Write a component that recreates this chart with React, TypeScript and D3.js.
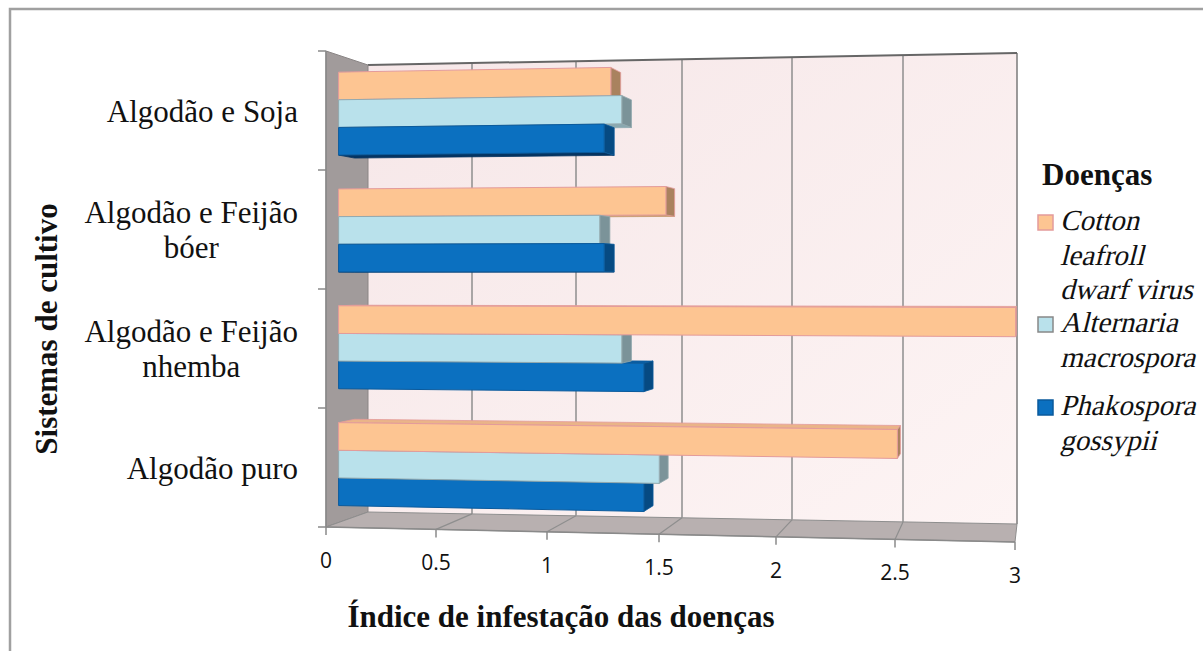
import React, { useEffect, useRef } from "react";
import * as d3 from "d3";

const categories = [
  "Algodão e Soja",
  "Algodão e Feijão\nbóer",
  "Algodão e Feijão\nnhemba",
  "Algodão puro",
];
const seriesNames = [
  "Cotton leafroll dwarf virus",
  "Alternaria macrospora",
  "Phakospora gossypii",
];
const legendLines = [
  ["Cotton", "leafroll", "dwarf virus"],
  ["Alternaria", "macrospora"],
  ["Phakospora", "gossypii"],
];
const cottonValues = [1.25, 1.5, 3.0, 2.5];
const alternariaValues = [1.3, 1.2, 1.3, 1.47];
const phakosporaValues = [1.22, 1.22, 1.4, 1.4];
const xTicks = [0, 0.5, 1, 1.5, 2, 2.5, 3];
const xTickLabels = ["0", "0.5", "1", "1.5", "2", "2.5", "3"];

const faceColors = [
  { front: "#fdc592", side: "#a9825f", top: "#eab488", bottom: "#c99a70", stroke: "#e39b9b" },
  { front: "#b9e1eb", side: "#7b9399", top: "#a4c8d2", bottom: "#8aa8b0", stroke: "#93a9ae" },
  { front: "#0b70c0", side: "#064a82", top: "#0c60a6", bottom: "#053461", stroke: "#0a5a9c" },
];

const serif = "Liberation Serif, DejaVu Serif, serif";

const App = () => {
  const ref = useRef<SVGSVGElement>(null);

  useEffect(() => {
    drawChart();
  }, []);

  const drawChart = () => {
    const svg = d3.select(ref.current);
    svg.selectAll("*").remove();

    // perspective: front plane and back wall value scales
    const xFront = d3.scaleLinear().domain(xTicks).range([326, 436, 547, 659, 776, 895, 1015]);
    const xBack = d3.scaleLinear().domain(xTicks).range([368, 472, 576, 682, 792, 903, 1017]);
    const lerp = (a: number, b: number, k: number) => a + (b - a) * k;
    const project = (v: number, t: number, z: number): [number, number] => {
      const xf = xFront(v);
      const xb = xBack(v);
      const sf = (xf - 326) / (1015 - 326);
      const sb = (xb - 368) / (1017 - 368);
      const yf = lerp(lerp(51, 38, sf), lerp(527, 542, sf), t);
      const yb = lerp(lerp(65, 53, sb), lerp(512, 524, sb), t);
      return [lerp(xf, xb, z), lerp(yf, yb, z)];
    };
    const poly = (pts: [number, number][]) => "M" + pts.map((p) => p.join(",")).join("L") + "Z";

    const yBand = d3.scaleBand().domain(categories).range([0, 1]).paddingInner(0.29).paddingOuter(0.145);
    const ySeries = d3.scaleBand().domain(seriesNames).range([0, yBand.bandwidth()]);

    const defs = svg.append("defs");
    const g1 = defs.append("linearGradient").attr("id", "wall").attr("x1", 0).attr("x2", 1).attr("y1", 0).attr("y2", 1);
    g1.append("stop").attr("offset", "0").attr("stop-color", "#f6e7e8");
    g1.append("stop").attr("offset", "1").attr("stop-color", "#fdf4f4");

    // outer frame
    svg.append("rect").attr("x", 10).attr("y", 9).attr("width", 1300).attr("height", 700)
      .attr("fill", "#fff").attr("stroke", "#a0a0a0").attr("stroke-width", 2.5);

    // back wall
    svg.append("path")
      .attr("d", poly([project(0, 0, 1), project(3, 0, 1), project(3, 1, 1), project(0, 1, 1)]))
      .attr("fill", "url(#wall)");
    xTicks.slice(1).forEach((v) => {
      const a = project(v, 0, 1);
      const b = project(v, 1, 1);
      svg.append("line").attr("x1", a[0]).attr("y1", a[1]).attr("x2", b[0]).attr("y2", b[1])
        .attr("stroke", v === 3 ? "#7a7a7a" : "#8e8e8e").attr("stroke-width", 1.5);
    });
    const wt0 = project(0, 0, 1);
    const wt1 = project(3, 0, 1);
    svg.append("line").attr("x1", wt0[0]).attr("y1", wt0[1]).attr("x2", wt1[0]).attr("y2", wt1[1])
      .attr("stroke", "#666").attr("stroke-width", 2);

    // side wall
    svg.append("path")
      .attr("d", poly([project(0, 0, 0), project(0, 0, 1), project(0, 1, 1), project(0, 1, 0)]))
      .attr("fill", "#a19b9b").attr("stroke", "#8a8585").attr("stroke-width", 1);

    // floor
    svg.append("path")
      .attr("d", poly([project(0, 1, 0), project(3, 1, 0), project(3, 1, 1), project(0, 1, 1)]))
      .attr("fill", "#b8b0b0").attr("stroke", "#8e8e8e").attr("stroke-width", 1);
    xTicks.slice(1, -1).forEach((v) => {
      const a = project(v, 1, 0);
      const b = project(v, 1, 1);
      svg.append("line").attr("x1", a[0]).attr("y1", a[1]).attr("x2", b[0]).attr("y2", b[1])
        .attr("stroke", "#8e8e8e").attr("stroke-width", 1.2);
    });

    // bars
    const tVanish = 0.485;
    const z0 = 0.3;
    const z1 = 0.68;
    const seriesValues = [cottonValues, alternariaValues, phakosporaValues];
    const bars: { t0: number; t1: number; v: number; s: number }[] = [];
    categories.forEach((c, i) => {
      seriesNames.forEach((name, s) => {
        const t0 = (yBand(c) as number) + (ySeries(name) as number);
        bars.push({ t0, t1: t0 + ySeries.bandwidth(), v: seriesValues[s][i], s });
      });
    });
    bars.sort((a, b) => Math.abs((b.t0 + b.t1) / 2 - tVanish) - Math.abs((a.t0 + a.t1) / 2 - tVanish));

    const barG = svg.append("g");
    bars.forEach((b) => {
      const col = faceColors[b.s];
      const topFront = project(b.v, b.t0, z0);
      const topBack = project(b.v, b.t0, z1);
      const botFront = project(b.v, b.t1, z0);
      const botBack = project(b.v, b.t1, z1);
      if (topBack[1] < topFront[1]) {
        barG.append("path")
          .attr("d", poly([project(0, b.t0, z0), topFront, topBack, project(0, b.t0, z1)]))
          .attr("fill", col.top).attr("stroke", col.stroke).attr("stroke-width", 0.8);
      }
      if (botBack[1] > botFront[1]) {
        barG.append("path")
          .attr("d", poly([project(0, b.t1, z0), botFront, botBack, project(0, b.t1, z1)]))
          .attr("fill", col.bottom).attr("stroke", col.bottom).attr("stroke-width", 0.8);
      }
      barG.append("path")
        .attr("d", poly([topFront, topBack, botBack, botFront]))
        .attr("fill", col.side).attr("stroke", col.stroke).attr("stroke-width", 0.8);
      barG.append("path")
        .attr("d", poly([project(0, b.t0, z0), topFront, botFront, project(0, b.t1, z0)]))
        .attr("fill", col.front).attr("stroke", col.stroke).attr("stroke-width", 1);
    });

    // axes
    const ax0 = project(0, 0, 0);
    const ax1 = project(0, 1, 0);
    svg.append("line").attr("x1", ax0[0]).attr("y1", ax0[1]).attr("x2", ax1[0]).attr("y2", ax1[1])
      .attr("stroke", "#8a8a8a").attr("stroke-width", 1.5);
    d3.range(categories.length + 1).forEach((k) => {
      const p = project(0, k / categories.length, 0);
      svg.append("line").attr("x1", p[0] - 8).attr("y1", p[1]).attr("x2", p[0]).attr("y2", p[1])
        .attr("stroke", "#8a8a8a").attr("stroke-width", 1.5);
    });
    const fe0 = project(0, 1, 0);
    const fe1 = project(3, 1, 0);
    svg.append("line").attr("x1", fe0[0]).attr("y1", fe0[1]).attr("x2", fe1[0]).attr("y2", fe1[1])
      .attr("stroke", "#8a8a8a").attr("stroke-width", 1.5);
    xTicks.forEach((v, i) => {
      const p = project(v, 1, 0);
      svg.append("line").attr("x1", p[0]).attr("y1", p[1]).attr("x2", p[0]).attr("y2", p[1] + 8)
        .attr("stroke", "#8a8a8a").attr("stroke-width", 1.5);
      svg.append("text").attr("x", p[0]).attr("y", p[1] + 41)
        .attr("text-anchor", "middle").attr("font-family", "Open Sans, sans-serif")
        .attr("font-size", 21).attr("fill", "#111").text(xTickLabels[i]);
    });

    // category labels
    categories.forEach((c, i) => {
      const lines = c.split("\n");
      const cy = project(0, (i + 0.5) / categories.length, 0)[1];
      const txt = svg.append("g").attr("font-family", serif).attr("font-size", 31).attr("fill", "#111");
      const nodes = lines.map((line, k) =>
        txt.append("text").attr("y", cy + 11 - ((lines.length - 1) * 35) / 2 + k * 35)
          .attr("text-anchor", "middle").text(line)
      );
      const w = d3.max(nodes, (n) => (n.node() as SVGTextElement).getComputedTextLength()) as number;
      nodes.forEach((n) => n.attr("x", 298 - w / 2));
    });

    // axis titles
    svg.append("text").attr("transform", "translate(57,329) rotate(-90)")
      .attr("text-anchor", "middle").attr("font-family", serif).attr("font-size", 31)
      .attr("font-weight", "bold").attr("fill", "#111").text("Sistemas de cultivo");
    svg.append("text").attr("x", 561).attr("y", 627)
      .attr("text-anchor", "middle").attr("font-family", serif).attr("font-size", 31)
      .attr("font-weight", "bold").attr("fill", "#111").text("Índice de infestação das doenças");

    // legend (italic faked by a skew, as the serif italic face is missing)
    svg.append("text").attr("x", 1042).attr("y", 185).attr("font-family", serif)
      .attr("font-size", 31).attr("font-weight", "bold").attr("fill", "#111").text("Doenças");
    const entryBaselines = [230, 332, 415];
    legendLines.forEach((lines, s) => {
      const base = entryBaselines[s];
      svg.append("rect").attr("x", 1038).attr("y", base - 15).attr("width", 15).attr("height", 15)
        .attr("fill", faceColors[s].front)
        .attr("stroke", s === 1 ? "#888" : faceColors[s].stroke).attr("stroke-width", 1.5);
      lines.forEach((line, k) => {
        svg.append("text")
          .attr("transform", `translate(1060,${base + k * 34.5}) skewX(-14)`)
          .attr("font-family", serif).attr("font-size", 29)
          .attr("fill", "#111").text(line);
      });
    });
  };

  return (
    <svg
      ref={ref}
      width={1203}
      height={651}
      style={{ position: "absolute", left: 0, top: 0, display: "block" }}
    ></svg>
  );
};

export default App;
